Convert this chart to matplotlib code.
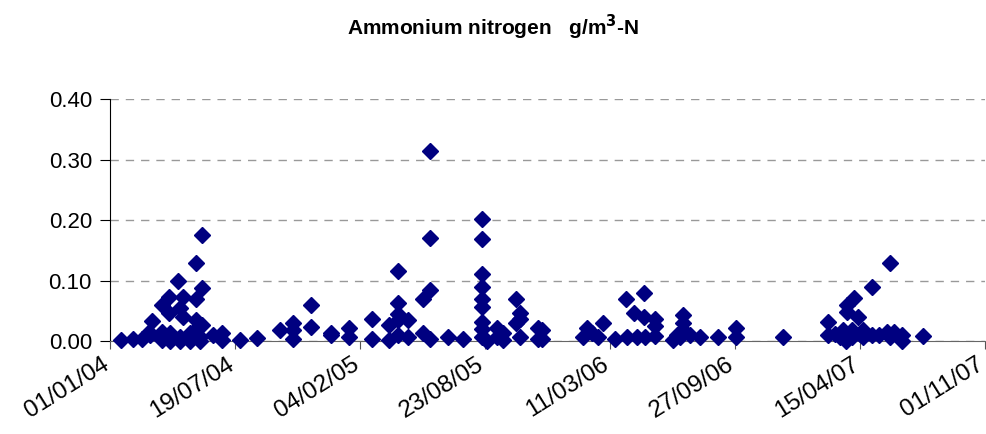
import numpy as np
import pandas as pd
import matplotlib
matplotlib.use("Agg")
import matplotlib.pyplot as plt
import matplotlib.dates as mdates
import matplotlib.transforms as mtransforms

plt.rcParams['font.family'] = ['Liberation Sans', 'DejaVu Sans']

start = pd.Timestamp("2004-01-01")

# sampling day (days since 01/01/04) and ammonium N (g/m3-N)
days = [17, 37, 51, 62, 64, 67, 83, 83, 83, 95, 95, 96, 96, 108, 112, 112, 112,
        117, 117, 128, 128, 137, 137, 137, 136, 147, 147, 147, 144, 144, 165,
        179, 179, 208, 235,
        272, 293, 293, 293, 321, 321, 354, 354, 382, 382, 419, 419, 447, 447,
        460, 460, 460, 460, 460, 476, 476, 501, 501, 512, 512, 512, 512, 540,
        565, 595, 595, 595, 595, 595, 595, 595, 595, 595, 603, 619, 619, 629,
        629, 649, 649, 656, 656, 656, 684, 684,
        691, 691, 757, 763, 771, 781, 789, 808, 825, 827, 838, 843, 854, 854,
        856, 872, 872, 872, 901, 907, 917, 917, 917, 912, 928, 944, 973, 1002,
        1002,
        1077, 1148, 1148, 1160, 1168, 1173, 1178, 1179, 1179, 1187, 1187, 1190,
        1196, 1200, 1205, 1205, 1219, 1219, 1230, 1243, 1248, 1248, 1255, 1267,
        1267, 1301]
nh4 = [0.002, 0.003, 0.003, 0.015, 0.010, 0.033, 0.060, 0.015, 0.002, 0.073,
       0.046, 0.013, 0.000, 0.099, 0.054, 0.007, 0.000, 0.073, 0.040, 0.013,
       0.000, 0.129, 0.069, 0.035, 0.018, 0.175, 0.088, 0.026, 0.007, 0.000,
       0.010, 0.013, 0.002, 0.002, 0.005,
       0.018, 0.029, 0.018, 0.004, 0.060, 0.023, 0.013, 0.010, 0.021, 0.006,
       0.036, 0.004, 0.026, 0.002, 0.116, 0.063, 0.045, 0.035, 0.010, 0.034,
       0.007, 0.069, 0.013, 0.314, 0.171, 0.085, 0.004, 0.007, 0.004, 0.201,
       0.169, 0.110, 0.089, 0.069, 0.057, 0.032, 0.020, 0.007, 0.000, 0.021,
       0.007, 0.013, 0.002, 0.069, 0.029, 0.046, 0.036, 0.007, 0.021, 0.004,
       0.018, 0.004, 0.007, 0.021, 0.013, 0.007, 0.030, 0.004, 0.069, 0.006,
       0.047, 0.006, 0.080, 0.039, 0.007, 0.037, 0.024, 0.008, 0.002, 0.010,
       0.043, 0.029, 0.018, 0.006, 0.010, 0.006, 0.007, 0.021, 0.007,
       0.006, 0.031, 0.010, 0.012, 0.007, 0.018, 0.000, 0.060, 0.048, 0.018,
       0.007, 0.071, 0.039, 0.012, 0.019, 0.007, 0.090, 0.010, 0.010, 0.015,
       0.129, 0.007, 0.015, 0.010, 0.000, 0.008]

tick_days = [0, 200, 400, 600, 800, 1000, 1200, 1400]
y_ticks = [0.0, 0.1, 0.2, 0.3, 0.4]

dates = start + pd.to_timedelta(days, unit="D")
tick_dates = start + pd.to_timedelta(tick_days, unit="D")

fig = plt.figure(figsize=(9.86, 4.34), dpi=100)
ax = fig.add_axes([0.1116, 0.2143, 0.8875, 0.5575])

ax.plot(dates, nh4, linestyle="none", marker="D", markersize=8,
        color="#000080", markeredgecolor="#000080", clip_on=False, zorder=3)

ax.set_xlim(tick_dates[0], tick_dates[-1])
ax.set_ylim(0, 0.40)
ax.set_xticks(tick_dates)
ax.xaxis.set_major_formatter(mdates.DateFormatter("%d/%m/%y"))
ax.set_yticks(y_ticks)
ax.set_yticklabels(["%.2f" % v for v in y_ticks])

ax.tick_params(axis="y", labelsize=16, direction="out", length=7, pad=6)
ax.tick_params(axis="x", labelsize=17.5, direction="out", length=6, pad=3,
               color="#555555")

shift = mtransforms.ScaledTranslation(-9 / 100, 0, fig.dpi_scale_trans)
for lab in ax.get_xticklabels():
    lab.set_rotation(32)
    lab.set_ha("right")
    lab.set_va("top")
    lab.set_rotation_mode("anchor")
    lab.set_transform(lab.get_transform() + shift)

ax.yaxis.grid(True, linestyle=(0, (6, 5)), color="#999999", linewidth=1)
ax.set_axisbelow(True)
for s in ["top", "right"]:
    ax.spines[s].set_visible(False)
ax.spines["left"].set_color("black")
ax.spines["bottom"].set_color("#666666")

fig.text(0.5, 0.937, "Ammonium nitrogen   g/m$^\\mathbf{3}$-N", ha="center",
         va="center", fontsize=15, fontweight="bold")

fig.savefig("out.png", dpi=100)
